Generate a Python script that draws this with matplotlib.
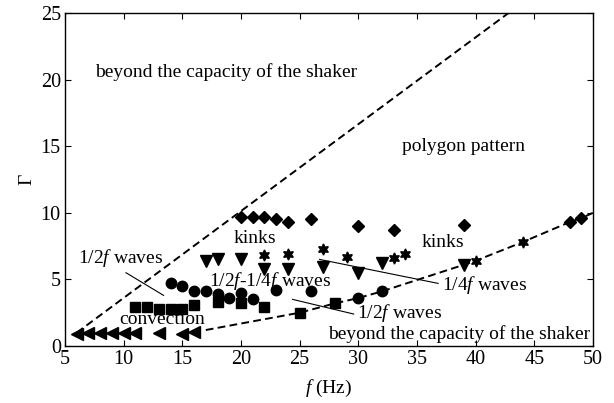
import matplotlib
matplotlib.use("Agg")
import matplotlib.pyplot as plt

plt.rcParams['font.family'] = ['Liberation Serif', 'DejaVu Serif']
plt.rcParams['mathtext.fontset'] = 'custom'
plt.rcParams['mathtext.rm'] = 'Liberation Serif'
plt.rcParams['mathtext.it'] = 'Liberation Serif:italic'

# Data
conv_f = [6, 7, 8, 9, 10, 11, 13, 15, 16]
conv_g = [0.9, 1.0, 1.0, 0.95, 1.0, 0.95, 1.0, 0.9, 1.05]

half_f = [11, 12, 13, 14, 15, 16, 18, 20, 22, 25, 28]
half_g = [2.9, 2.9, 2.8, 2.8, 2.8, 3.1, 3.3, 3.2, 2.9, 2.5, 3.2]

hq_f = [14, 15, 16, 17, 18, 19, 20, 21, 23, 26, 30, 32]
hq_g = [4.7, 4.5, 4.1, 4.1, 3.9, 3.6, 4.0, 3.5, 4.2, 4.1, 3.6, 4.1]

quarter_f = [17, 18, 20, 22, 24, 27, 30, 32, 39]
quarter_g = [6.4, 6.5, 6.5, 5.8, 5.8, 5.9, 5.5, 6.2, 6.1]

kinks_f = [22, 24, 27, 29, 33, 34, 40, 44]
kinks_g = [6.8, 6.9, 7.3, 6.7, 6.6, 6.9, 6.4, 7.8]

poly_f = [20, 21, 22, 23, 24, 26, 30, 33, 39, 48, 49]
poly_g = [9.7, 9.7, 9.7, 9.5, 9.3, 9.5, 9.0, 8.7, 9.1, 9.3, 9.6]

upper_f = [6, 42.8]
upper_g = [1.0, 25.0]

lower_f = [17, 25, 28, 30, 32, 39, 40, 44, 48, 49, 50]
lower_g = [1.2, 2.5, 3.2, 3.6, 4.1, 6.1, 6.4, 7.8, 9.3, 9.6, 10.0]

fig = plt.figure(figsize=(6.14, 4.03), dpi=100)
ax = fig.add_axes([65/614, 1-346/403, (593-65)/614, (346-13)/403])

ax.plot(upper_f, upper_g, 'k--', lw=1.4, dashes=(4, 2.2))
ax.plot(lower_f, lower_g, 'k--', lw=1.4, dashes=(4, 2.2))

ax.plot(conv_f, conv_g, 'k<', ms=8.5, ls='none')
ax.plot(half_f, half_g, 'ks', ms=7.5, ls='none')
ax.plot(hq_f, hq_g, 'ko', ms=7.5, ls='none')
ax.plot(quarter_f, quarter_g, 'kv', ms=8.5, ls='none')
ax.plot(kinks_f, kinks_g, 'k', marker=(6, 1, 0), ms=8, ls='none')
ax.plot(poly_f, poly_g, 'kD', ms=6.5, ls='none')

# annotation leader lines
ax.plot([10.2, 13.4], [5.5, 3.8], 'k-', lw=0.8)
ax.plot([26.7, 36.8], [6.5, 4.7], 'k-', lw=0.8)
ax.plot([24.4, 29.6], [3.5, 2.4], 'k-', lw=0.8)

fs = 14
ax.text(7.6, 20.55, 'beyond the capacity of the shaker', fontsize=fs, va='center')
ax.text(33.7, 15.0, 'polygon pattern', fontsize=fs, va='center')
ax.text(21.2, 8.1, 'kinks', fontsize=fs, va='center', ha='center')
ax.text(37.2, 7.8, 'kinks', fontsize=fs, va='center', ha='center')
ax.text(6.1, 6.6, r'1/2$f$ waves', fontsize=fs, va='center')
ax.text(17.3, 4.9, r'1/2$f$-1/4$f$ waves', fontsize=fs, va='center')
ax.text(37.1, 4.55, r'1/4$f$ waves', fontsize=fs, va='center')
ax.text(29.85, 2.5, r'1/2$f$ waves', fontsize=fs, va='center')
ax.text(13.25, 2.0, 'convection', fontsize=fs, va='center', ha='center')
ax.text(49.8, 0.9, 'beyond the capacity of the shaker', fontsize=fs, va='center', ha='right')

ax.set_xlim(5, 50)
ax.set_ylim(0, 25)
ax.set_xticks(range(5, 51, 5))
ax.set_yticks(range(0, 26, 5))
ax.tick_params(direction='in', top=True, right=True, labelsize=14.5, length=4, width=0.8, pad=3)
for s in ax.spines.values():
    s.set_linewidth(1.0)
ax.set_xlabel(r'$f$ (Hz)', fontsize=14, labelpad=6)
ax.set_ylabel('Γ', fontsize=14, labelpad=4)

fig.savefig('out.png', dpi=100)
